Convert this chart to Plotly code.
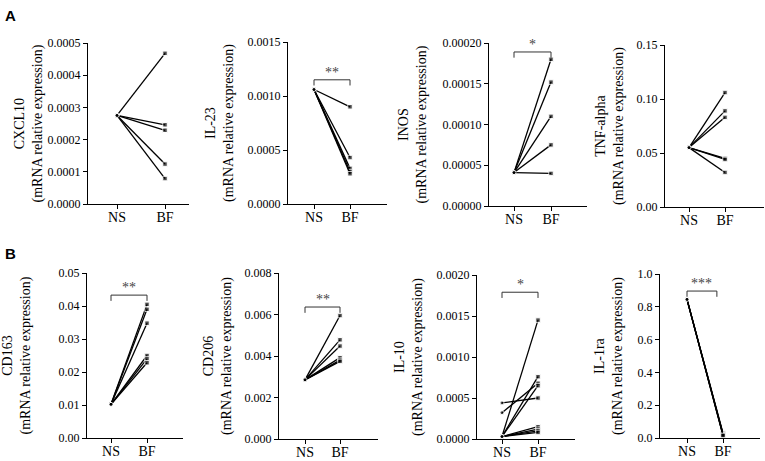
import plotly.graph_objects as go

W, H = 765, 461
SERIF = "Liberation Serif, Times New Roman, serif"

# paired values, NS -> BF
cxcl10_ns = [0.000275, 0.000275, 0.000275, 0.000275, 0.000275]
cxcl10_bf = [0.000468, 0.000246, 0.000229, 0.000124, 0.000079]

il23_ns = [0.00106, 0.00106, 0.00106, 0.00106, 0.00106]
il23_bf = [0.00090, 0.00043, 0.00033, 0.00030, 0.00028]

inos_ns = [0.000041, 0.000041, 0.000041, 0.000041, 0.000041]
inos_bf = [0.000180, 0.000152, 0.000110, 0.000075, 0.000040]

tnf_ns = [0.055, 0.055, 0.055, 0.055, 0.055, 0.055]
tnf_bf = [0.106, 0.089, 0.083, 0.045, 0.044, 0.032]

cd163_ns = [0.0102, 0.0102, 0.0102, 0.0102, 0.0102, 0.0102]
cd163_bf = [0.0405, 0.0390, 0.0348, 0.0250, 0.0240, 0.0228]

cd206_ns = [0.00285, 0.00285, 0.00285, 0.00285, 0.00285, 0.00285]
cd206_bf = [0.00595, 0.00478, 0.00448, 0.00392, 0.00380, 0.00374]

il10_ns = [0.00044, 0.00032, 0.00003, 0.00003, 0.00003, 0.00003, 0.00003, 0.00003, 0.00003]
il10_bf = [0.00050, 0.00068, 0.00145, 0.00076, 0.00065, 0.00015, 0.00012, 0.00010, 0.00008]

il1ra_ns = [0.845, 0.845, 0.845, 0.845, 0.845]
il1ra_bf = [0.030, 0.025, 0.020, 0.018, 0.015]

groups = ["NS", "BF"]
names = ["CXCL10", "IL-23", "INOS", "TNF-alpha", "CD163", "CD206", "IL-10", "IL-1ra"]
ymax = [0.0005, 0.0015, 0.0002, 0.15, 0.05, 0.008, 0.002, 1.0]
ystep = [0.0001, 0.0005, 0.00005, 0.05, 0.01, 0.002, 0.0005, 0.2]
yfmt = [".4f", ".4f", ".5f", ".2f", ".2f", ".3f", ".4f", ".1f"]
stars = [None, "**", "*", None, "**", "**", "*", "***"]
bracket_y = [None, 0.00115, 0.000189, None, 0.0433, 0.00636, 0.00179, 0.896]
bracket_end = [None, 1.0, 1.0, None, 1.0, 1.0, 1.0, 0.83]

ns_vals = [cxcl10_ns, il23_ns, inos_ns, tnf_ns, cd163_ns, cd206_ns, il10_ns, il1ra_ns]
bf_vals = [cxcl10_bf, il23_bf, inos_bf, tnf_bf, cd163_bf, cd206_bf, il10_bf, il1ra_bf]

# pixel geometry of each panel: axis start x, NS x, BF x, axis end x, top y, bottom y, title centre x
geom = [
    (88, 117, 165, 189, 43, 204, 28),
    (288, 314, 350, 387, 42, 204, 220),
    (489, 514, 551, 587, 43, 206, 413),
    (665, 689, 725, 764, 45, 207, 610),
    (87, 111, 147, 183, 273, 438, 16),
    (279, 305, 340, 378, 273, 439, 218),
    (477, 502, 538, 575, 275, 439, 409),
    (660, 687, 723, 760, 274, 438, 609),
]

fig = go.Figure()
layout = dict(
    width=W, height=H, margin=dict(l=0, r=0, t=0, b=0, autoexpand=False),
    plot_bgcolor="white", paper_bgcolor="white", showlegend=False,
    font=dict(family=SERIF, size=13, color="black"),
)
shapes = []
annotations = []

for i in range(8):
    x0, xns, xbf, x1, yt, yb, xt = geom[i]
    s = xbf - xns
    k = "" if i == 0 else str(i + 1)
    xa, ya = "x" + k, "y" + k
    for a, b in zip(ns_vals[i], bf_vals[i]):
        fig.add_trace(go.Scatter(
            x=[0, 1], y=[a, b], xaxis=xa, yaxis=ya, mode="lines+markers",
            line=dict(color="black", width=1.3),
            marker=dict(color="black", size=[4, 4.5], symbol=["circle", "square"]),
            cliponaxis=False, hoverinfo="skip"))
    n = round(ymax[i] / ystep[i])
    tv = [ystep[i] * j for j in range(n + 1)]
    layout["xaxis" + k] = dict(
        domain=[x0 / W, x1 / W], range=[(x0 - xns) / s, (x1 - xns) / s],
        anchor=ya, tickvals=[0, 1], ticktext=groups, ticks="outside", ticklen=4,
        tickcolor="black", showline=True, linecolor="black", linewidth=1.3,
        showgrid=False, zeroline=False, automargin=False, ticklabelstandoff=-4,
        tickfont=dict(family=SERIF, size=14, color="black"))
    layout["yaxis" + k] = dict(
        domain=[1 - yb / H, 1 - yt / H], range=[0, ymax[i]], anchor=xa,
        tickvals=tv, tickformat=yfmt[i], ticks="outside", ticklen=4,
        tickcolor="black", showline=True, linecolor="black", linewidth=1.3,
        showgrid=False, zeroline=False, automargin=False,
        tickfont=dict(family=SERIF, size=12, color="black"))
    annotations.append(dict(
        x=xt / W, y=1 - (yt + yb) / 2 / H, xref="paper", yref="paper",
        text=names[i] + "<br>(mRNA relative expression)", textangle=-90,
        showarrow=False, xanchor="center", yanchor="middle",
        font=dict(family=SERIF, size=14, color="black")))
    if stars[i]:
        by = bracket_y[i]
        d = ymax[i] * 0.035
        shapes.append(dict(
            type="path", xref=xa, yref=ya,
            path=f"M 0 {by - d} L 0 {by} L {bracket_end[i]} {by} L {bracket_end[i]} {by - d}",
            line=dict(color="#333333", width=1)))
        annotations.append(dict(
            x=bracket_end[i] / 2, y=by, xref=xa, yref=ya, text=stars[i],
            showarrow=False, yanchor="bottom", yshift=-2,
            font=dict(family=SERIF, size=14, color="#444444")))

for lbl, px, py in [("A", 3, 5), ("B", 3, 243)]:
    annotations.append(dict(
        x=px / W, y=1 - py / H, xref="paper", yref="paper", text="<b>" + lbl + "</b>",
        showarrow=False, xanchor="left", yanchor="top",
        font=dict(family="Liberation Sans", size=15, color="black")))

layout["shapes"] = shapes
layout["annotations"] = annotations
fig.update_layout(**layout)
fig.write_html("out.html", config={"displayModeBar": False},
               post_script="document.body.style.margin='0px';")
